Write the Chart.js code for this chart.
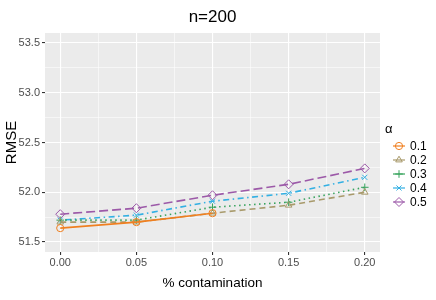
<!DOCTYPE html>
<html>
<head>
<meta charset="utf-8">
<script src="https://cdn.jsdelivr.net/npm/chart.js@4.4.0/dist/chart.umd.min.js"></script>
<style>
    html, body { margin: 0; padding: 0; background: #ffffff; }
    #wrap { width: 436px; height: 300px; }
</style>
</head>
<body>
<div id="wrap"><canvas id="myChart" width="436" height="300"></canvas></div>
<script>
//--- Data
var contamination = [0, 0.05, 0.10, 0.15, 0.20];
var alphas = ['0.1', '0.2', '0.3', '0.4', '0.5'];
var rmseA01 = [51.64, 51.70, 51.79, null, null];
var rmseA02 = [51.70, 51.70, 51.79, 51.87, 52.00];
var rmseA03 = [51.72, 51.72, 51.85, 51.90, 52.05];
var rmseA04 = [51.72, 51.77, 51.91, 51.99, 52.15];
var rmseA05 = [51.78, 51.84, 51.97, 52.08, 52.24];
var xTicks = [0, 0.05, 0.10, 0.15, 0.20];
var xMinor = [0.025, 0.075, 0.125, 0.175];
var yTicks = [51.5, 52.0, 52.5, 53.0, 53.5];
var yMinor = [51.75, 52.25, 52.75, 53.25];

//--- Styles
var fontFam = "'Liberation Sans', Arial, sans-serif";
var colors = ['#F07F1F', '#A89A6B', '#37A35D', '#33B0E3', '#9C59A8'];
var dashes = [[], [6, 4], [1.5, 3.5], [1.5, 3.5, 6, 3.5], [9, 4]];
var shapes = ['circle', 'triangle', 'cross', 'crossRot', 'rectRot'];
var radii = [3.6, 3.8, 3.8, 3.6, 4.5];
var series = [rmseA01, rmseA02, rmseA03, rmseA04, rmseA05];

function isMajor(list, v) {
    return list.some(function (t) { return Math.abs(t - v) < 1e-9; });
}

var datasets = series.map(function (vals, i) {
    return {
        label: alphas[i],
        data: contamination.map(function (x, j) { return { x: x, y: vals[j] }; }),
        borderColor: colors[i],
        backgroundColor: 'rgba(0,0,0,0)',
        borderWidth: 1.6,
        borderDash: dashes[i],
        pointStyle: shapes[i],
        pointRadius: radii[i],
        pointBorderWidth: 1,
        pointBorderColor: colors[i],
        pointBackgroundColor: 'rgba(0,0,0,0)',
        spanGaps: false,
        tension: 0
    };
});

// grey panel like ggplot
var panelBg = {
    id: 'panelBg',
    beforeDraw: function (chart) {
        var a = chart.chartArea, c = chart.ctx;
        c.save();
        c.fillStyle = '#EBEBEB';
        c.fillRect(a.left, a.top, a.right - a.left, a.bottom - a.top);
        c.restore();
    }
};

// ggplot style legend: title + key (line and point) + label
var ggLegend = {
    id: 'ggLegend',
    afterDraw: function (chart) {
        var c = chart.ctx;
        var left = chart.chartArea.right + 5;
        c.save();
        c.fillStyle = '#000000';
        c.textBaseline = 'middle';
        c.textAlign = 'left';
        c.font = '13px ' + fontFam;
        c.fillText('α', left, 129);
        c.font = '12px ' + fontFam;
        chart.data.datasets.forEach(function (ds, i) {
            var y = 146 + 14 * i;
            var cx = left + 14;
            c.strokeStyle = ds.borderColor;
            c.lineWidth = 1.2;
            c.setLineDash([]);
            c.beginPath();
            c.moveTo(cx - 6, y);
            c.lineTo(cx + 6, y);
            c.stroke();
            c.fillStyle = 'rgba(0,0,0,0)';
            c.lineWidth = 1;
            Chart.helpers.drawPoint(c, {
                pointStyle: ds.pointStyle,
                radius: ds.pointRadius,
                borderWidth: 1
            }, cx, y);
            c.fillStyle = '#000000';
            c.fillText(ds.label, left + 25, y + 0.5);
        });
        c.restore();
    }
};

var ctx = document.getElementById('myChart');
new Chart(ctx, {
    type: 'line',
    data: { datasets: datasets },
    plugins: [panelBg, ggLegend],
    options: {
        responsive: false,
        animation: false,
        layout: { padding: { left: 0, right: 56, top: 0, bottom: 0 } },
        plugins: {
            title: {
                display: true,
                fullSize: false,
                text: 'n=200',
                color: '#000000',
                font: { family: fontFam, size: 17, weight: 'normal' },
                padding: { top: 7.5, bottom: 5.1 }
            },
            legend: { display: false },
            tooltip: { enabled: false }
        },
        scales: {
            x: {
                type: 'linear',
                min: -0.01,
                max: 0.21,
                afterBuildTicks: function (scale) {
                    scale.ticks = xTicks.concat(xMinor).sort().map(function (v) { return { value: v }; });
                },
                afterFit: function (scale) { scale.height = 48; },
                border: { display: false },
                grid: {
                    color: '#FFFFFF',
                    lineWidth: function (c) { return isMajor(xTicks, c.tick.value) ? 1.1 : 0.55; },
                    tickColor: function (c) { return isMajor(xTicks, c.tick.value) ? '#333333' : 'rgba(0,0,0,0)'; },
                    tickLength: 3,
                    tickWidth: 1.1
                },
                ticks: {
                    autoSkip: false,
                    maxRotation: 0,
                    padding: 1.5,
                    color: '#4D4D4D',
                    font: { family: fontFam, size: 11 },
                    callback: function (v) { return isMajor(xTicks, v) ? v.toFixed(2) : ''; }
                },
                title: {
                    display: true,
                    text: '% contamination',
                    color: '#000000',
                    font: { family: fontFam, size: 13.5 },
                    padding: { top: 0, bottom: 9 }
                }
            },
            y: {
                type: 'linear',
                min: 51.4,
                max: 53.6,
                afterBuildTicks: function (scale) {
                    scale.ticks = yTicks.concat(yMinor).sort().map(function (v) { return { value: v }; });
                },
                afterFit: function (scale) { scale.width = 45; },
                border: { display: false },
                grid: {
                    color: '#FFFFFF',
                    lineWidth: function (c) { return isMajor(yTicks, c.tick.value) ? 1.1 : 0.55; },
                    tickColor: function (c) { return isMajor(yTicks, c.tick.value) ? '#333333' : 'rgba(0,0,0,0)'; },
                    tickLength: 3,
                    tickWidth: 1.1
                },
                ticks: {
                    autoSkip: false,
                    padding: 2,
                    color: '#4D4D4D',
                    font: { family: fontFam, size: 11 },
                    callback: function (v) { return isMajor(yTicks, v) ? v.toFixed(1) : ''; }
                },
                title: {
                    display: true,
                    text: 'RMSE',
                    color: '#000000',
                    font: { family: fontFam, size: 15 },
                    padding: { top: 3, bottom: 0 }
                }
            }
        }
    }
});
</script>
</body>
</html>
